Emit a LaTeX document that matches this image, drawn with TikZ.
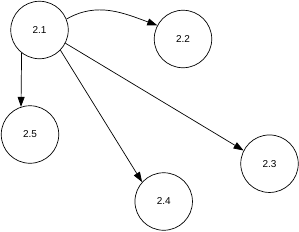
\documentclass[tikz,border=0pt]{standalone}
\usepackage{fontspec}
\setmainfont{Liberation Sans}
\usetikzlibrary{arrows.meta}
\begin{document}
\begin{tikzpicture}[x=1pt,y=-1pt,
  task/.style={circle,draw,line width=0.7pt,minimum size=57.5pt,inner sep=0pt,font=\fontsize{10}{12}\selectfont},
  link/.style={line width=0.7pt,-{Triangle[length=10pt,width=7pt]}}]
\useasboundingbox (0,0) rectangle (299,231);
\node[task] (a) at (39.5,30) {2.1};
\node[task] (b) at (183,39) {2.2};
\node[task] (c) at (269.5,163.7) {2.3};
\node[task] (d) at (163.7,201.5) {2.4};
\node[task] (e) at (30,134.5) {2.5};
\draw[link] (a.22) to[out=30,in=160] (b.152);
\draw[link] (a.-128) -- (e.108);
\draw[link] (a.-44) -- (d.138);
\draw[link] (a.-27) -- (c.153);
\end{tikzpicture}
\end{document}
